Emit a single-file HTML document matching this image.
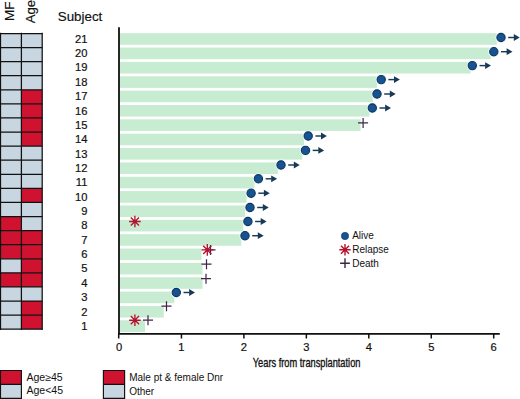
<!DOCTYPE html>
<html><head><meta charset="utf-8"><style>
html,body{margin:0;padding:0;background:#fff;}
svg{display:block;}
text{font-family:"Liberation Sans", sans-serif;fill:#111;}
.b{stroke:#111;stroke-width:0.35;}
.d{stroke:#111;stroke-width:0.18;}
</style></head><body>
<svg width="520" height="399" viewBox="0 0 520 399">
<rect x="0.5" y="33.50" width="20.90" height="14.08" fill="#c8d6e2"/>
<rect x="21.4" y="33.50" width="20.80" height="14.08" fill="#c8d6e2"/>
<rect x="0.5" y="47.58" width="20.90" height="14.08" fill="#c8d6e2"/>
<rect x="21.4" y="47.58" width="20.80" height="14.08" fill="#c8d6e2"/>
<rect x="0.5" y="61.66" width="20.90" height="14.08" fill="#c8d6e2"/>
<rect x="21.4" y="61.66" width="20.80" height="14.08" fill="#c8d6e2"/>
<rect x="0.5" y="75.74" width="20.90" height="14.08" fill="#c8d6e2"/>
<rect x="21.4" y="75.74" width="20.80" height="14.08" fill="#c8d6e2"/>
<rect x="0.5" y="89.82" width="20.90" height="14.08" fill="#c8d6e2"/>
<rect x="21.4" y="89.82" width="20.80" height="14.08" fill="#cf1230"/>
<rect x="0.5" y="103.90" width="20.90" height="14.08" fill="#c8d6e2"/>
<rect x="21.4" y="103.90" width="20.80" height="14.08" fill="#cf1230"/>
<rect x="0.5" y="117.98" width="20.90" height="14.08" fill="#c8d6e2"/>
<rect x="21.4" y="117.98" width="20.80" height="14.08" fill="#cf1230"/>
<rect x="0.5" y="132.06" width="20.90" height="14.08" fill="#c8d6e2"/>
<rect x="21.4" y="132.06" width="20.80" height="14.08" fill="#cf1230"/>
<rect x="0.5" y="146.14" width="20.90" height="14.08" fill="#c8d6e2"/>
<rect x="21.4" y="146.14" width="20.80" height="14.08" fill="#c8d6e2"/>
<rect x="0.5" y="160.22" width="20.90" height="14.08" fill="#c8d6e2"/>
<rect x="21.4" y="160.22" width="20.80" height="14.08" fill="#c8d6e2"/>
<rect x="0.5" y="174.30" width="20.90" height="14.08" fill="#c8d6e2"/>
<rect x="21.4" y="174.30" width="20.80" height="14.08" fill="#c8d6e2"/>
<rect x="0.5" y="188.38" width="20.90" height="14.08" fill="#c8d6e2"/>
<rect x="21.4" y="188.38" width="20.80" height="14.08" fill="#cf1230"/>
<rect x="0.5" y="202.46" width="20.90" height="14.08" fill="#c8d6e2"/>
<rect x="21.4" y="202.46" width="20.80" height="14.08" fill="#c8d6e2"/>
<rect x="0.5" y="216.54" width="20.90" height="14.08" fill="#cf1230"/>
<rect x="21.4" y="216.54" width="20.80" height="14.08" fill="#c8d6e2"/>
<rect x="0.5" y="230.62" width="20.90" height="14.08" fill="#cf1230"/>
<rect x="21.4" y="230.62" width="20.80" height="14.08" fill="#cf1230"/>
<rect x="0.5" y="244.70" width="20.90" height="14.08" fill="#cf1230"/>
<rect x="21.4" y="244.70" width="20.80" height="14.08" fill="#cf1230"/>
<rect x="0.5" y="258.78" width="20.90" height="14.08" fill="#c8d6e2"/>
<rect x="21.4" y="258.78" width="20.80" height="14.08" fill="#cf1230"/>
<rect x="0.5" y="272.86" width="20.90" height="14.08" fill="#cf1230"/>
<rect x="21.4" y="272.86" width="20.80" height="14.08" fill="#cf1230"/>
<rect x="0.5" y="286.94" width="20.90" height="14.08" fill="#c8d6e2"/>
<rect x="21.4" y="286.94" width="20.80" height="14.08" fill="#c8d6e2"/>
<rect x="0.5" y="301.02" width="20.90" height="14.08" fill="#c8d6e2"/>
<rect x="21.4" y="301.02" width="20.80" height="14.08" fill="#cf1230"/>
<rect x="0.5" y="315.10" width="20.90" height="14.08" fill="#c8d6e2"/>
<rect x="21.4" y="315.10" width="20.80" height="14.08" fill="#cf1230"/>
<path d="M0 33.50H42.900000000000006M0 47.58H42.900000000000006M0 61.66H42.900000000000006M0 75.74H42.900000000000006M0 89.82H42.900000000000006M0 103.90H42.900000000000006M0 117.98H42.900000000000006M0 132.06H42.900000000000006M0 146.14H42.900000000000006M0 160.22H42.900000000000006M0 174.30H42.900000000000006M0 188.38H42.900000000000006M0 202.46H42.900000000000006M0 216.54H42.900000000000006M0 230.62H42.900000000000006M0 244.70H42.900000000000006M0 258.78H42.900000000000006M0 272.86H42.900000000000006M0 286.94H42.900000000000006M0 301.02H42.900000000000006M0 315.10H42.900000000000006M0 329.18H42.900000000000006M0.5 32.8V329.88M21.4 32.8V329.88M42.2 32.8V329.88" stroke="#111" stroke-width="1.25" fill="none"/>
<text transform="translate(13.8 20.95) rotate(-90)" font-size="13.5" class="d">MF</text>
<text transform="translate(35.3 23.2) rotate(-90)" font-size="13.1" class="d">Age</text>
<text x="57.75" y="21" font-size="13.35" class="d">Subject</text>
<text transform="translate(87.4 42.75) scale(1.12 1)" font-size="10" class="d" text-anchor="end">21</text>
<text transform="translate(87.4 57.11) scale(1.12 1)" font-size="10" class="d" text-anchor="end">20</text>
<text transform="translate(87.4 71.46) scale(1.12 1)" font-size="10" class="d" text-anchor="end">19</text>
<text transform="translate(87.4 85.81) scale(1.12 1)" font-size="10" class="d" text-anchor="end">18</text>
<text transform="translate(87.4 100.17) scale(1.12 1)" font-size="10" class="d" text-anchor="end">17</text>
<text transform="translate(87.4 114.53) scale(1.12 1)" font-size="10" class="d" text-anchor="end">16</text>
<text transform="translate(87.4 128.88) scale(1.12 1)" font-size="10" class="d" text-anchor="end">15</text>
<text transform="translate(87.4 143.24) scale(1.12 1)" font-size="10" class="d" text-anchor="end">14</text>
<text transform="translate(87.4 157.59) scale(1.12 1)" font-size="10" class="d" text-anchor="end">13</text>
<text transform="translate(87.4 171.94) scale(1.12 1)" font-size="10" class="d" text-anchor="end">12</text>
<text transform="translate(87.4 186.30) scale(1.12 1)" font-size="10" class="d" text-anchor="end">11</text>
<text transform="translate(87.4 200.66) scale(1.12 1)" font-size="10" class="d" text-anchor="end">10</text>
<text transform="translate(87.4 215.01) scale(1.12 1)" font-size="10" class="d" text-anchor="end">9</text>
<text transform="translate(87.4 229.37) scale(1.12 1)" font-size="10" class="d" text-anchor="end">8</text>
<text transform="translate(87.4 243.72) scale(1.12 1)" font-size="10" class="d" text-anchor="end">7</text>
<text transform="translate(87.4 258.08) scale(1.12 1)" font-size="10" class="d" text-anchor="end">6</text>
<text transform="translate(87.4 272.43) scale(1.12 1)" font-size="10" class="d" text-anchor="end">5</text>
<text transform="translate(87.4 286.79) scale(1.12 1)" font-size="10" class="d" text-anchor="end">4</text>
<text transform="translate(87.4 301.14) scale(1.12 1)" font-size="10" class="d" text-anchor="end">3</text>
<text transform="translate(87.4 315.50) scale(1.12 1)" font-size="10" class="d" text-anchor="end">2</text>
<text transform="translate(87.4 329.85) scale(1.12 1)" font-size="10" class="d" text-anchor="end">1</text>
<rect x="120" y="33.20" width="376.80" height="11.6" fill="#c8ecd1"/>
<rect x="120" y="47.56" width="370.70" height="11.6" fill="#c8ecd1"/>
<rect x="120" y="61.91" width="350.60" height="11.6" fill="#c8ecd1"/>
<rect x="120" y="76.27" width="256.90" height="11.6" fill="#c8ecd1"/>
<rect x="120" y="90.62" width="252.80" height="11.6" fill="#c8ecd1"/>
<rect x="120" y="104.98" width="249.50" height="11.6" fill="#c8ecd1"/>
<rect x="120" y="119.33" width="240.60" height="11.6" fill="#c8ecd1"/>
<rect x="120" y="133.69" width="184.10" height="11.6" fill="#c8ecd1"/>
<rect x="120" y="148.04" width="182.30" height="11.6" fill="#c8ecd1"/>
<rect x="120" y="162.39" width="157.90" height="11.6" fill="#c8ecd1"/>
<rect x="120" y="176.75" width="134.40" height="11.6" fill="#c8ecd1"/>
<rect x="120" y="191.11" width="126.50" height="11.6" fill="#c8ecd1"/>
<rect x="120" y="205.46" width="125.00" height="11.6" fill="#c8ecd1"/>
<rect x="120" y="219.81" width="123.20" height="11.6" fill="#c8ecd1"/>
<rect x="120" y="234.17" width="121.30" height="11.6" fill="#c8ecd1"/>
<rect x="120" y="248.53" width="81.50" height="11.6" fill="#c8ecd1"/>
<rect x="120" y="262.88" width="82.50" height="11.6" fill="#c8ecd1"/>
<rect x="120" y="277.24" width="82.50" height="11.6" fill="#c8ecd1"/>
<rect x="120" y="291.59" width="54.40" height="11.6" fill="#c8ecd1"/>
<rect x="120" y="305.94" width="43.80" height="11.6" fill="#c8ecd1"/>
<rect x="120" y="320.30" width="25.00" height="11.6" fill="#c8ecd1"/>
<path d="M119.0 27.3V334.5M118.0 333.8H499.8" stroke="#111" stroke-width="1.8" fill="none"/>
<path d="M118.70 333.8V338.5M181.45 333.8V338.5M243.90 333.8V338.5M306.35 333.8V338.5M368.80 333.8V338.5M431.25 333.8V338.5M493.70 333.8V338.5" stroke="#111" stroke-width="1.5" fill="none"/>
<text transform="translate(119.00 350.6) scale(1.12 1)" font-size="10" class="d" text-anchor="middle">0</text>
<text transform="translate(181.45 350.6) scale(1.12 1)" font-size="10" class="d" text-anchor="middle">1</text>
<text transform="translate(243.90 350.6) scale(1.12 1)" font-size="10" class="d" text-anchor="middle">2</text>
<text transform="translate(306.35 350.6) scale(1.12 1)" font-size="10" class="d" text-anchor="middle">3</text>
<text transform="translate(368.80 350.6) scale(1.12 1)" font-size="10" class="d" text-anchor="middle">4</text>
<text transform="translate(431.25 350.6) scale(1.12 1)" font-size="10" class="d" text-anchor="middle">5</text>
<text transform="translate(493.70 350.6) scale(1.12 1)" font-size="10" class="d" text-anchor="middle">6</text>
<text x="306" y="367.4" font-size="12.3" text-anchor="middle" class="b" transform="translate(306.6 0) scale(0.753 1) translate(-306 0)">Years from transplantation</text>
<circle cx="501" cy="37.5" r="5.55" fill="#f4fbf6"/><circle cx="501" cy="37.5" r="4.1499999999999995" fill="#175291" stroke="#0d3762" stroke-width="1.1"/>
<path d="M508.20 37.5H514.30" stroke="#183a57" stroke-width="1.45"/><path d="M513.80 34.10L519.70 37.5L513.80 40.90Z" fill="#183a57"/>
<circle cx="493.8" cy="51.7" r="5.55" fill="#f4fbf6"/><circle cx="493.8" cy="51.7" r="4.1499999999999995" fill="#175291" stroke="#0d3762" stroke-width="1.1"/>
<path d="M501.00 51.7H507.10" stroke="#183a57" stroke-width="1.45"/><path d="M506.60 48.30L512.50 51.7L506.60 55.10Z" fill="#183a57"/>
<circle cx="472.3" cy="65.6" r="5.55" fill="#f4fbf6"/><circle cx="472.3" cy="65.6" r="4.1499999999999995" fill="#175291" stroke="#0d3762" stroke-width="1.1"/>
<path d="M479.50 65.6H485.60" stroke="#183a57" stroke-width="1.45"/><path d="M485.10 62.20L491.00 65.6L485.10 69.00Z" fill="#183a57"/>
<circle cx="381.2" cy="79.6" r="5.55" fill="#f4fbf6"/><circle cx="381.2" cy="79.6" r="4.1499999999999995" fill="#175291" stroke="#0d3762" stroke-width="1.1"/>
<path d="M388.40 79.6H394.50" stroke="#183a57" stroke-width="1.45"/><path d="M394.00 76.20L399.90 79.6L394.00 83.00Z" fill="#183a57"/>
<circle cx="377" cy="94" r="5.55" fill="#f4fbf6"/><circle cx="377" cy="94" r="4.1499999999999995" fill="#175291" stroke="#0d3762" stroke-width="1.1"/>
<path d="M384.20 94H390.30" stroke="#183a57" stroke-width="1.45"/><path d="M389.80 90.60L395.70 94L389.80 97.40Z" fill="#183a57"/>
<circle cx="372.3" cy="108" r="5.55" fill="#f4fbf6"/><circle cx="372.3" cy="108" r="4.1499999999999995" fill="#175291" stroke="#0d3762" stroke-width="1.1"/>
<path d="M379.50 108H385.60" stroke="#183a57" stroke-width="1.45"/><path d="M385.10 104.60L391.00 108L385.10 111.40Z" fill="#183a57"/>
<circle cx="308.2" cy="136" r="5.55" fill="#f4fbf6"/><circle cx="308.2" cy="136" r="4.1499999999999995" fill="#175291" stroke="#0d3762" stroke-width="1.1"/>
<path d="M315.40 136H321.50" stroke="#183a57" stroke-width="1.45"/><path d="M321.00 132.60L326.90 136L321.00 139.40Z" fill="#183a57"/>
<circle cx="305.5" cy="150.4" r="5.55" fill="#f4fbf6"/><circle cx="305.5" cy="150.4" r="4.1499999999999995" fill="#175291" stroke="#0d3762" stroke-width="1.1"/>
<path d="M312.70 150.4H318.80" stroke="#183a57" stroke-width="1.45"/><path d="M318.30 147.00L324.20 150.4L318.30 153.80Z" fill="#183a57"/>
<circle cx="281" cy="165" r="5.55" fill="#f4fbf6"/><circle cx="281" cy="165" r="4.1499999999999995" fill="#175291" stroke="#0d3762" stroke-width="1.1"/>
<path d="M288.20 165H294.30" stroke="#183a57" stroke-width="1.45"/><path d="M293.80 161.60L299.70 165L293.80 168.40Z" fill="#183a57"/>
<circle cx="258.4" cy="178.8" r="5.55" fill="#f4fbf6"/><circle cx="258.4" cy="178.8" r="4.1499999999999995" fill="#175291" stroke="#0d3762" stroke-width="1.1"/>
<path d="M265.60 178.8H271.70" stroke="#183a57" stroke-width="1.45"/><path d="M271.20 175.40L277.10 178.8L271.20 182.20Z" fill="#183a57"/>
<circle cx="251.1" cy="193.2" r="5.55" fill="#f4fbf6"/><circle cx="251.1" cy="193.2" r="4.1499999999999995" fill="#175291" stroke="#0d3762" stroke-width="1.1"/>
<path d="M258.30 193.2H264.40" stroke="#183a57" stroke-width="1.45"/><path d="M263.90 189.80L269.80 193.2L263.90 196.60Z" fill="#183a57"/>
<circle cx="250" cy="207.5" r="5.55" fill="#f4fbf6"/><circle cx="250" cy="207.5" r="4.1499999999999995" fill="#175291" stroke="#0d3762" stroke-width="1.1"/>
<path d="M257.20 207.5H263.30" stroke="#183a57" stroke-width="1.45"/><path d="M262.80 204.10L268.70 207.5L262.80 210.90Z" fill="#183a57"/>
<circle cx="247.9" cy="221.5" r="5.55" fill="#f4fbf6"/><circle cx="247.9" cy="221.5" r="4.1499999999999995" fill="#175291" stroke="#0d3762" stroke-width="1.1"/>
<path d="M255.10 221.5H261.20" stroke="#183a57" stroke-width="1.45"/><path d="M260.70 218.10L266.60 221.5L260.70 224.90Z" fill="#183a57"/>
<circle cx="245" cy="235.7" r="5.55" fill="#f4fbf6"/><circle cx="245" cy="235.7" r="4.1499999999999995" fill="#175291" stroke="#0d3762" stroke-width="1.1"/>
<path d="M252.20 235.7H258.30" stroke="#183a57" stroke-width="1.45"/><path d="M257.80 232.30L263.70 235.7L257.80 239.10Z" fill="#183a57"/>
<circle cx="176.3" cy="292.5" r="5.55" fill="#f4fbf6"/><circle cx="176.3" cy="292.5" r="4.1499999999999995" fill="#175291" stroke="#0d3762" stroke-width="1.1"/>
<path d="M183.50 292.5H189.60" stroke="#183a57" stroke-width="1.45"/><path d="M189.10 289.10L195.00 292.5L189.10 295.90Z" fill="#183a57"/>
<path d="M358.10 122.9H368.10M363.1 117.90V127.90" stroke="#3f2449" stroke-width="1.2" fill="none"/>
<path d="M205.50 249.9H215.50M210.5 244.90V254.90" stroke="#3f2449" stroke-width="1.2" fill="none"/>
<path d="M201.50 264.2H211.50M206.5 259.20V269.20" stroke="#3f2449" stroke-width="1.2" fill="none"/>
<path d="M201.00 278.7H211.00M206 273.70V283.70" stroke="#3f2449" stroke-width="1.2" fill="none"/>
<path d="M161.50 306.2H171.50M166.5 301.20V311.20" stroke="#3f2449" stroke-width="1.2" fill="none"/>
<path d="M143.00 320.2H153.00M148 315.20V325.20" stroke="#3f2449" stroke-width="1.2" fill="none"/>
<path d="M134.90 215.70L134.90 227.30M139.00 217.40L130.80 225.60M140.70 221.50L129.10 221.50M139.00 225.60L130.80 217.40" stroke="#b3132e" stroke-width="1.35" fill="none"/>
<path d="M207.30 244.10L207.30 255.70M211.40 245.80L203.20 254.00M213.10 249.90L201.50 249.90M211.40 254.00L203.20 245.80" stroke="#b3132e" stroke-width="1.35" fill="none"/>
<path d="M134.90 314.40L134.90 326.00M139.00 316.10L130.80 324.30M140.70 320.20L129.10 320.20M139.00 324.30L130.80 316.10" stroke="#b3132e" stroke-width="1.35" fill="none"/>
<circle cx="345" cy="236" r="3.7" fill="#175291" stroke="#0d3762" stroke-width="0.5"/>
<path d="M345.00 244.10L345.00 255.50M349.03 245.77L340.97 253.83M350.70 249.80L339.30 249.80M349.03 253.83L340.97 245.77" stroke="#b3132e" stroke-width="1.4" fill="none"/>
<path d="M340.10 263.2H349.90M345 258.30V268.10" stroke="#3f2449" stroke-width="1.4" fill="none"/>
<text x="352.2" y="238.8" font-size="10">Alive</text>
<text x="352.2" y="252.6" font-size="10">Relapse</text>
<text x="352.2" y="266.9" font-size="10">Death</text>
<rect x="0.5" y="370.2" width="20.9" height="14.1" fill="#cf1230"/><rect x="0.5" y="384.3" width="20.9" height="14.1" fill="#c8d6e2"/><path d="M0.5 370.5H21.4V398.4H0.5ZM0.5 384.3H21.4" stroke="#111" stroke-width="1.15" fill="none"/>
<rect x="103.4" y="370.2" width="21.19999999999999" height="14.1" fill="#cf1230"/><rect x="103.4" y="384.3" width="21.19999999999999" height="14.1" fill="#c8d6e2"/><path d="M103.4 370.5H124.6V398.4H103.4ZM103.4 384.3H124.6" stroke="#111" stroke-width="1.15" fill="none"/>
<text x="26.4" y="380.8" font-size="10" transform="translate(26.4 0) scale(1.057 1) translate(-26.4 0)">Age≥45</text>
<text x="26.4" y="394.5" font-size="10" transform="translate(26.4 0) scale(1.057 1) translate(-26.4 0)">Age&lt;45</text>
<text x="129.2" y="380.8" font-size="10" transform="translate(129.2 0) scale(1 1) translate(-129.2 0)">Male pt &amp; female Dnr</text>
<text x="129.2" y="394.8" font-size="10" transform="translate(129.2 0) scale(1 1) translate(-129.2 0)">Other</text>
</svg>
</body></html>
